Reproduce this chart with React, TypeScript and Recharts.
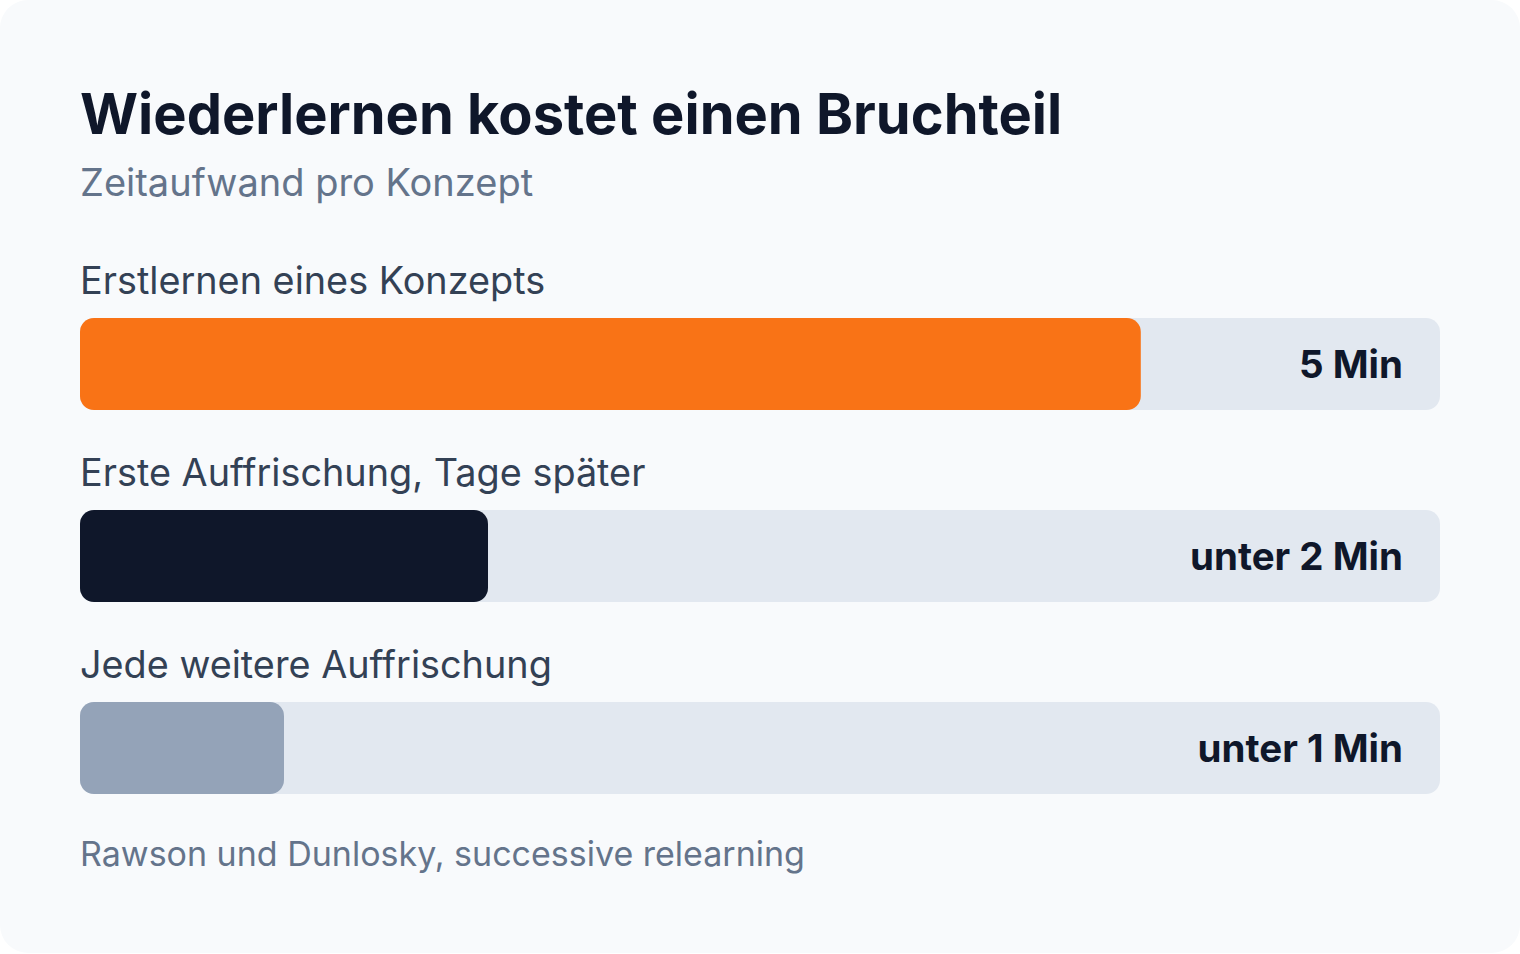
import React from "react";
import { BarChart, Bar, XAxis, YAxis, LabelList, Cell, Rectangle } from "recharts";

const categories = [
  "Erstlernen eines Konzepts",
  "Erste Auffrischung, Tage später",
  "Jede weitere Auffrischung",
];
const shareOfTrack = [78, 30, 15];
const valueLabels = ["5 Min", "unter 2 Min", "unter 1 Min"];
const barColors = ["#f97316", "#0f172a", "#94a3b8"];

const title = "Wiederlernen kostet einen Bruchteil";
const subtitle = "Zeitaufwand pro Konzept";
const footnote = "Rawson und Dunlosky, successive relearning";

const data = categories.map((name, i) => ({
  name,
  value: shareOfTrack[i],
  label: valueLabels[i],
}));

const FONT = "Inter, 'Noto Sans', sans-serif";

const TrackShape = (props: any) => {
  const { x, y, width, height, index } = props;
  return (
    <g>
      <Rectangle x={x} y={y} width={width} height={height} radius={14} fill="#e2e8f0" />
      <text
        x={x + width - 37}
        y={y + height / 2}
        dy="0.37em"
        textAnchor="end"
        fontFamily={FONT}
        fontSize={38.5}
        fontWeight={700}
        fill="#0f172a"
      >
        {valueLabels[index]}
      </text>
    </g>
  );
};

const CategoryLabel = (props: any) => {
  const { x, y, value } = props;
  return (
    <text x={x} y={y - 24} fontFamily={FONT} fontSize={37.8} fill="#334155">
      {value}
    </text>
  );
};

export default function App() {
  return (
    <div
      style={{
        position: "absolute",
        left: 0,
        top: 0,
        width: 1520,
        height: 953,
        background: "#f8fafc",
        borderRadius: 28,
        fontFamily: FONT,
        overflow: "hidden",
      }}
    >
      <div
        style={{
          position: "absolute",
          left: 80,
          top: 86,
          fontSize: 56,
          lineHeight: 1,
          fontWeight: 700,
          color: "#0f172a",
          whiteSpace: "nowrap",
        }}
      >
        {title}
      </div>
      <div
        style={{
          position: "absolute",
          left: 80,
          top: 163,
          fontSize: 38,
          lineHeight: 1,
          color: "#64748b",
          whiteSpace: "nowrap",
        }}
      >
        {subtitle}
      </div>
      <div style={{ position: "absolute", left: 0, top: 0 }}>
        <BarChart
          width={1520}
          height={953}
          data={data}
          layout="vertical"
          margin={{ top: 268, right: 80, bottom: 109, left: 80 }}
          barSize={92}
        >
          <XAxis type="number" domain={[0, 100]} hide />
          <YAxis type="category" dataKey="name" hide width={0} />
          <Bar
            dataKey="value"
            isAnimationActive={false}
            radius={14}
            background={TrackShape as any}
          >
            {data.map((d, i) => (
              <Cell key={d.name} fill={barColors[i]} />
            ))}
            <LabelList dataKey="name" content={CategoryLabel as any} />
          </Bar>
        </BarChart>
      </div>
      <div
        style={{
          position: "absolute",
          left: 80,
          top: 837,
          fontSize: 34,
          lineHeight: 1,
          color: "#64748b",
          whiteSpace: "nowrap",
        }}
      >
        {footnote}
      </div>
    </div>
  );
}
